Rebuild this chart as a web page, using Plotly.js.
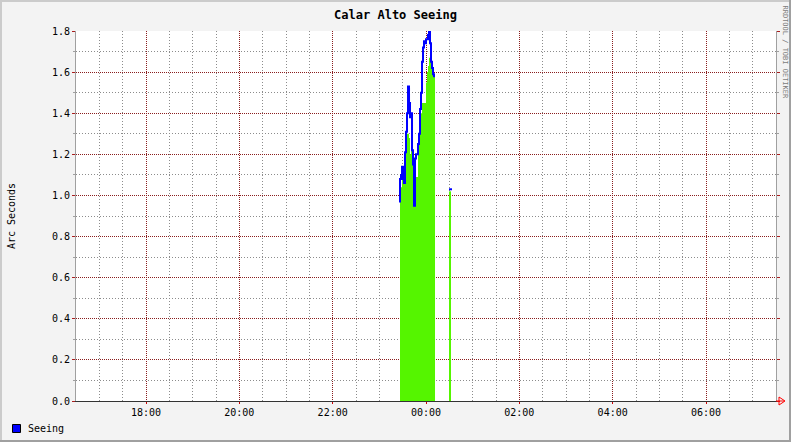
<!DOCTYPE html>
<html>
<head>
<meta charset="utf-8">
<script src="https://cdn.plot.ly/plotly-3.0.1.min.js"></script>
<style>
  html, body { margin: 0; padding: 0; background: #f3f3f3; }
  #chart { width: 791px; height: 442px; }
</style>
</head>
<body>
<div id="chart"></div>
<script>
// ---- data ----
const chartTitle = 'Calar Alto Seeing';
const yAxisTitle = 'Arc Seconds';
const seriesName = 'Seeing';

// Seeing (blue line) – sample times and values (null = no data)
const seeingTimes = [
  '23:25:18','23:26:35','23:27:53','23:29:10','23:30:27','23:31:44','23:33:01','23:34:18',
  '23:35:35','23:36:53','23:38:10','23:39:27','23:40:44','23:42:01','23:43:18','23:44:35',
  '23:45:53','23:47:10','23:48:27','23:49:44','23:51:01','23:52:18','23:53:35','23:54:53',
  '23:56:10','23:57:27','23:58:44','00:00:01','00:01:18','00:02:35','00:03:52','00:05:09',
  '00:06:26','00:07:44','00:09:01','00:10:18','00:11:35',
  '00:20:00',
  '00:29:35','00:33:26'
];
const seeingValues = [
  0.97,1.08,1.10,1.14,1.08,1.06,1.21,1.31,
  1.40,1.53,1.45,1.38,1.40,1.22,1.15,0.95,
  1.18,1.20,1.20,1.25,1.30,1.42,1.50,1.65,
  1.72,1.75,1.74,1.76,1.76,1.78,1.80,1.74,
  1.65,1.62,1.59,1.58,1.58,
  null,
  1.03,1.03
];

// Green area – sample times and values (null = no data)
const areaTimes = [
  '23:26:35','23:27:53','23:29:10','23:30:27','23:31:44','23:33:01','23:34:18',
  '23:35:35','23:36:53','23:38:10','23:39:27','23:40:44','23:42:01','23:43:18','23:44:35',
  '23:45:53','23:47:10','23:48:27','23:49:44','23:51:01','23:52:18','23:53:35','23:54:53',
  '23:56:10','23:57:27','23:58:44','00:00:01','00:01:18','00:02:35','00:03:52','00:05:09',
  '00:06:26','00:07:44','00:09:01','00:10:18','00:11:35',
  '00:20:00',
  '00:29:35','00:32:09'
];
const areaValues = [
  1.04,1.04,1.08,1.06,1.06,1.06,1.25,
  1.30,1.30,1.28,1.20,1.25,1.20,1.02,1.02,
  1.05,1.09,1.09,1.20,1.25,1.37,1.40,1.45,
  1.45,1.45,1.45,1.55,1.60,1.63,1.67,1.67,
  1.62,1.60,1.58,1.58,1.58,
  null,
  1.02,1.02
];

const xRange = ['2024-01-01 16:30', '2024-01-02 07:30'];
const yRange = [0, 1.8];

// evening times belong to day 1, after midnight to day 2
function toDate(t) {
  const h = parseInt(t.slice(0, 2), 10);
  return (h >= 12 ? '2024-01-01 ' : '2024-01-02 ') + t;
}

// split a series at null values into separate segments
function segments(times, values) {
  const out = [];
  let cur = { x: [], y: [] };
  times.forEach((t, i) => {
    if (values[i] === null) {
      if (cur.x.length) out.push(cur);
      cur = { x: [], y: [] };
    } else {
      cur.x.push(toDate(t));
      cur.y.push(values[i]);
    }
  });
  if (cur.x.length) out.push(cur);
  return out;
}

// ---- layout helpers (pixel -> paper coords, for decoration only) ----
const L = 76, R = 15, T = 31, B = 41, W = 791, H = 442;
const pw = W - L - R, ph = H - T - B;
const px = x => (x - L) / pw;
const py = y => (H - B - y) / ph;

const mono = 'DejaVu Sans Mono, monospace';
const mgrid = '#8a1e1e';
const grid = '#8c8c8c';
const green = '#55f500';

const traces = [];
segments(areaTimes, areaValues).forEach(seg => {
  traces.push({
    x: seg.x, y: seg.y,
    type: 'scatter', mode: 'lines',
    line: { shape: 'hv', width: 0, color: green },
    fill: 'tozeroy', fillcolor: green,
    showlegend: false, hoverinfo: 'skip'
  });
});
traces.push({
  x: seeingTimes.map(toDate), y: seeingValues,
  type: 'scatter', mode: 'lines', name: seriesName,
  line: { shape: 'hv', width: 2, color: '#0000ff' },
  connectgaps: false, showlegend: false
});

const layout = {
  width: W, height: H,
  margin: { l: L, r: R, t: T, b: B, pad: 0 },
  paper_bgcolor: '#f3f3f3',
  plot_bgcolor: '#ffffff',
  showlegend: false,
  font: { family: mono, size: 10, color: '#000' },
  title: {
    text: chartTitle,
    font: { family: mono, size: 12, weight: 'bold', color: '#000' },
    x: 0.5, xref: 'container', xanchor: 'center',
    y: 1 - 15 / H, yref: 'container', yanchor: 'middle'
  },
  xaxis: {
    type: 'date', range: xRange,
    tick0: '2024-01-01 00:00', dtick: 7200000,
    tickformat: '%H:%M',
    showgrid: true, gridcolor: mgrid, griddash: '1px,1px', gridwidth: 1,
    ticks: 'outside', ticklen: 2, tickcolor: '#cc0000', tickwidth: 1,
    showline: true, linecolor: '#333', linewidth: 1, mirror: false,
    zeroline: false,
    minor: { dtick: 1800000, showgrid: true, gridcolor: grid, griddash: '1px,2px', gridwidth: 1, ticks: '' },
    tickfont: { family: mono, size: 10, color: '#000' },
    fixedrange: true
  },
  yaxis: {
    range: yRange, dtick: 0.2, tick0: 0, tickformat: '.1f',
    showgrid: true, gridcolor: mgrid, griddash: '1px,1px', gridwidth: 1,
    ticks: 'outside', ticklen: 3, tickcolor: '#aa1e1e', tickwidth: 1,
    showline: true, linecolor: '#a0a0a0', linewidth: 1, mirror: 'ticks',
    zeroline: false,
    minor: { dtick: 0.1, showgrid: true, gridcolor: grid, griddash: '1px,2px', gridwidth: 1,
             ticks: 'outside', ticklen: 2, tickcolor: '#a0a0a0' },
    tickfont: { family: mono, size: 10, color: '#000' },
    title: { text: yAxisTitle, font: { family: mono, size: 10, color: '#000' }, standoff: 34 },
    fixedrange: true
  },
  shapes: [
    // outer frame (light top/left, darker bottom/right)
    { type: 'line', xref: 'paper', yref: 'paper', x0: px(0), x1: px(W), y0: py(1), y1: py(1), line: { color: '#cbcbcb', width: 2 } },
    { type: 'line', xref: 'paper', yref: 'paper', x0: px(1), x1: px(1), y0: py(0), y1: py(H), line: { color: '#cbcbcb', width: 2 } },
    { type: 'line', xref: 'paper', yref: 'paper', x0: px(0), x1: px(W), y0: py(H - 1), y1: py(H - 1), line: { color: '#a0a0a0', width: 2 } },
    { type: 'line', xref: 'paper', yref: 'paper', x0: px(W - 1), x1: px(W - 1), y0: py(0), y1: py(H), line: { color: '#a0a0a0', width: 2 } },
    // x-axis arrow
    { type: 'line', xref: 'paper', yref: 'paper', x0: px(776), x1: px(784), y0: py(401), y1: py(401), line: { color: '#ff0000', width: 1 } },
    { type: 'path', xref: 'paper', yref: 'paper',
      path: `M ${px(779)} ${py(397)} L ${px(785)} ${py(401)} L ${px(779)} ${py(405)} Z`,
      line: { color: '#ff0000', width: 1 }, fillcolor: 'rgba(0,0,0,0)' },
    // legend swatch
    { type: 'rect', xref: 'paper', yref: 'paper', x0: px(12.5), x1: px(20.5), y0: py(432.5), y1: py(424.5),
      line: { color: '#000', width: 1 }, fillcolor: '#0000ff' }
  ],
  annotations: [
    { text: seriesName, xref: 'paper', yref: 'paper', x: px(26), y: py(428.5),
      xanchor: 'left', yanchor: 'middle', showarrow: false,
      font: { family: mono, size: 10, color: '#000' } },
    { text: 'RRDTOOL / TOBI OETIKER', xref: 'paper', yref: 'paper', x: px(784.5), y: py(52),
      xanchor: 'center', yanchor: 'middle', showarrow: false, textangle: 90,
      font: { family: mono, size: 7, color: '#7c7c7c' } }
  ]
};

Plotly.newPlot('chart', traces, layout, { displayModeBar: false, staticPlot: true });
</script>
</body>
</html>
